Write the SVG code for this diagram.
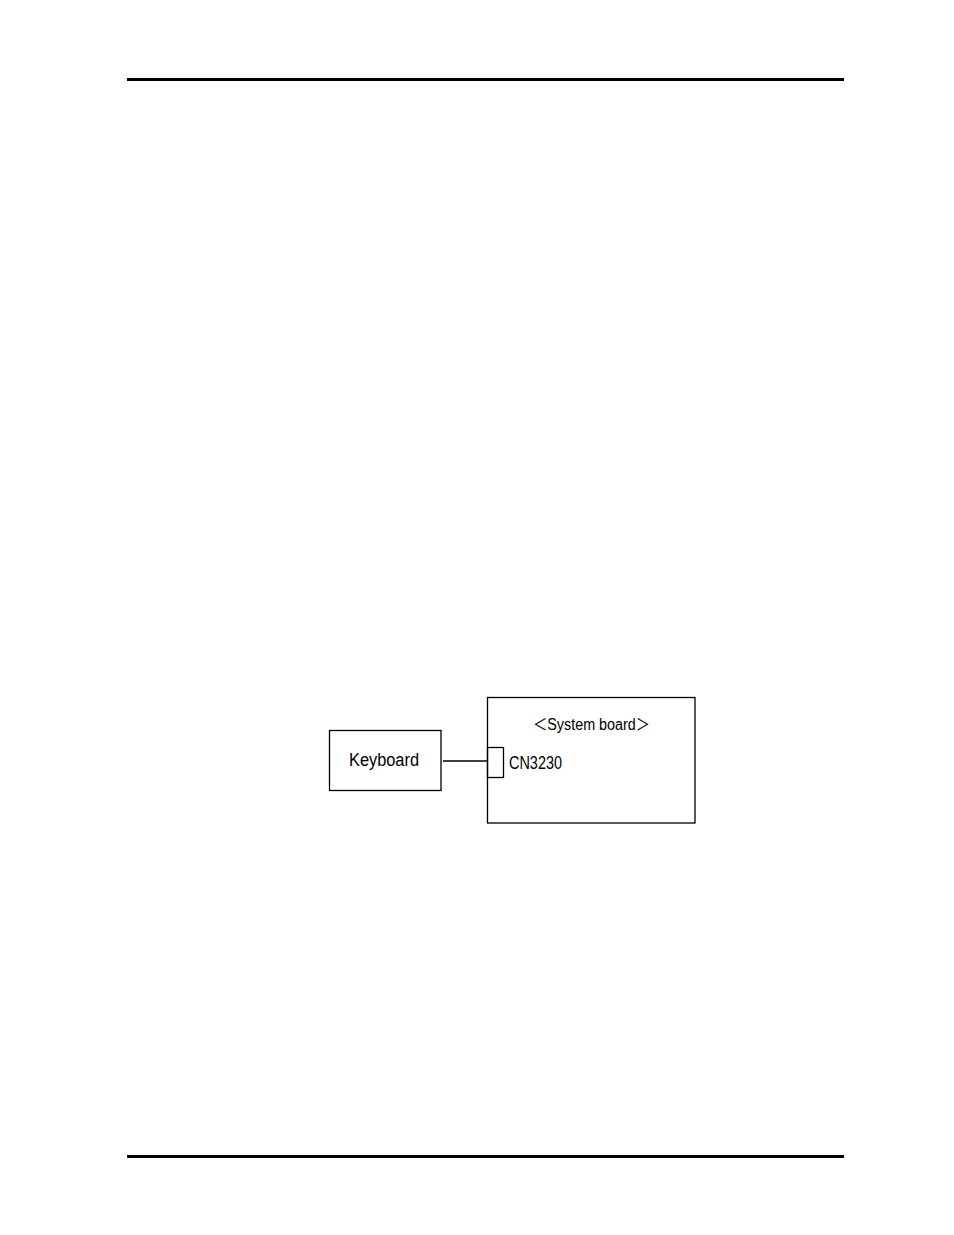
<svg xmlns="http://www.w3.org/2000/svg" width="954" height="1235" viewBox="0 0 954 1235">
<style>
.box{fill:none;stroke:#000;stroke-width:1.3}
.t{font-family:"Liberation Sans","Noto Sans CJK JP",sans-serif;fill:#000}
</style>
<rect width="954" height="1235" fill="#fff"/>
<rect x="127" y="78" width="717" height="3" fill="#000"/>
<rect x="127" y="1155" width="717" height="3" fill="#000"/>
<g id="keyboard">
<rect class="box" x="329.5" y="730.5" width="111.5" height="60"/>
<text class="t" x="349" y="766" font-size="18" textLength="70" lengthAdjust="spacingAndGlyphs">Keyboard</text>
</g>
<g id="system-board">
<rect class="box" x="487.5" y="697.5" width="207.5" height="125.5"/>
<text class="t" x="533" y="730" font-size="16" textLength="117" lengthAdjust="spacingAndGlyphs">＜System board＞</text>
</g>
<g id="cn3230">
<rect class="box" x="487.5" y="747.5" width="16" height="30"/>
<text class="t" x="509" y="769" font-size="19" textLength="53" lengthAdjust="spacingAndGlyphs">CN3230</text>
</g>
<g id="connectors">
<line x1="443" y1="761" x2="487.5" y2="761" stroke="#000" stroke-width="1.3"/>
</g>
</svg>
